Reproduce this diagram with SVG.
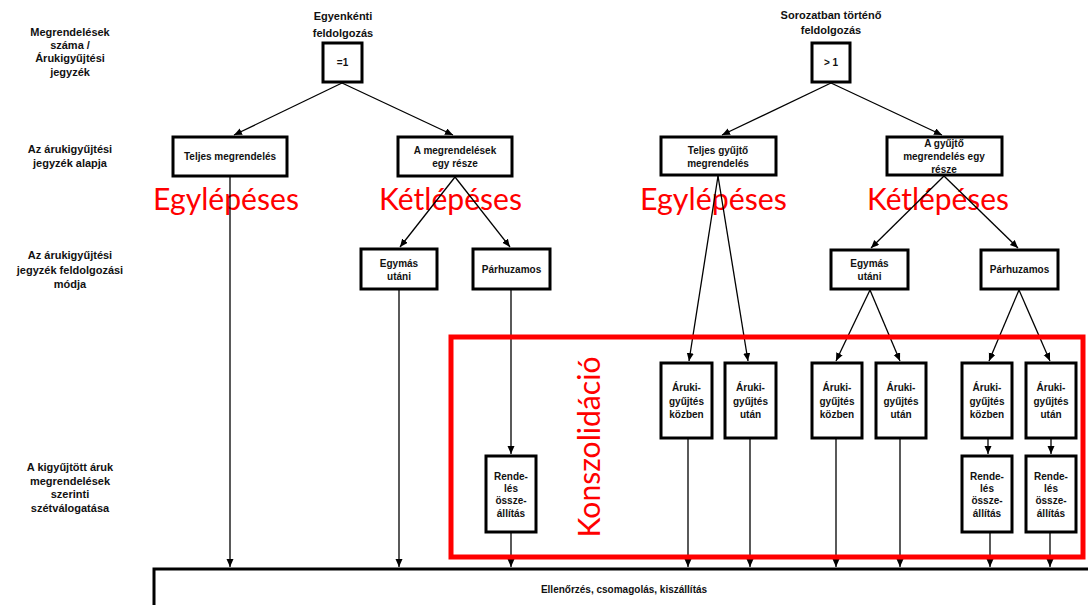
<svg xmlns="http://www.w3.org/2000/svg" width="1088" height="605" viewBox="0 0 1088 605">
  <style>
    .box { fill: #ffffff; stroke: #000000; stroke-width: 3; }
    .lbl { font-family: "Liberation Sans", Arial, sans-serif; font-size: 10px; font-weight: bold; fill: #111111; text-anchor: middle; }
    .side { font-family: "Liberation Sans", Arial, sans-serif; font-size: 11px; font-weight: bold; fill: #111111; text-anchor: middle; }
    .big { font-family: Lato, "Open Sans", sans-serif; font-size: 31px; fill: #ff0000; }
    .con { stroke: #000000; stroke-width: 1.3; fill: none; marker-end: url(#arrow); }
    .con-plain { stroke: #000000; stroke-width: 1.3; fill: none; }
  </style>
  <defs>
    <marker id="arrow" markerUnits="userSpaceOnUse" markerWidth="9" markerHeight="8" refX="8" refY="3.5" orient="auto">
      <path d="M0,0 L8,3.5 L0,7 z" fill="#000000"/>
    </marker>
  </defs>

  <rect width="1088" height="605" fill="#ffffff"/>

  <!-- row headings on the left -->
  <g id="row-headings">
    <text class="side" x="70" y="36">Megrendelések</text>
    <text class="side" x="70" y="49">száma /</text>
    <text class="side" x="70" y="62">Árukigyűjtési</text>
    <text class="side" x="70" y="76">jegyzék</text>

    <text class="side" x="70" y="153">Az árukigyűjtési</text>
    <text class="side" x="70" y="167">jegyzék alapja</text>

    <text class="side" x="70" y="259">Az árukigyűjtési</text>
    <text class="side" x="70" y="274">jegyzék feldolgozási</text>
    <text class="side" x="70" y="288">módja</text>

    <text class="side" x="70" y="471">A kigyűjtött áruk</text>
    <text class="side" x="70" y="485">megrendelések</text>
    <text class="side" x="70" y="498">szerinti</text>
    <text class="side" x="70" y="512">szétválogatása</text>
  </g>

  <!-- column headings -->
  <g id="col-headings">
    <text class="side" x="343" y="20">Egyenkénti</text>
    <text class="side" x="343" y="37">feldolgozás</text>
    <text class="side" x="831" y="19">Sorozatban történő</text>
    <text class="side" x="831" y="34">feldolgozás</text>
  </g>

  <!-- red step labels (drawn under the connectors) -->
  <g id="step-labels">
    <text class="big" x="153" y="210" textLength="146" lengthAdjust="spacingAndGlyphs">Egylépéses</text>
    <text class="big" x="379" y="210" textLength="143" lengthAdjust="spacingAndGlyphs">Kétlépéses</text>
    <text class="big" x="640" y="210" textLength="147" lengthAdjust="spacingAndGlyphs">Egylépéses</text>
    <text class="big" x="867" y="210" textLength="142" lengthAdjust="spacingAndGlyphs">Kétlépéses</text>
  </g>

  <!-- connectors -->
  <g id="connectors">
    <line class="con" x1="342" y1="83" x2="234" y2="135"/>
    <line class="con" x1="342" y1="83" x2="453" y2="135"/>
    <line class="con" x1="831" y1="83" x2="722" y2="135"/>
    <line class="con" x1="831" y1="83" x2="942" y2="135"/>

    <line class="con" x1="230" y1="177" x2="230" y2="567"/>
    <line class="con" x1="455" y1="177" x2="400" y2="247"/>
    <line class="con" x1="455" y1="177" x2="510" y2="247"/>
    <line class="con" x1="399" y1="290" x2="399" y2="567"/>
    <line class="con" x1="511" y1="290" x2="511" y2="454"/>
    <line class="con" x1="511" y1="533" x2="511" y2="567"/>

    <line class="con" x1="718" y1="176" x2="689" y2="361"/>
    <line class="con" x1="718" y1="176" x2="748" y2="361"/>
    <line class="con" x1="944" y1="176" x2="871" y2="248"/>
    <line class="con" x1="944" y1="176" x2="1018" y2="248"/>

    <line class="con" x1="870" y1="290" x2="836" y2="361"/>
    <line class="con" x1="870" y1="290" x2="900" y2="361"/>
    <line class="con" x1="1019" y1="290" x2="989" y2="361"/>
    <line class="con" x1="1019" y1="290" x2="1050" y2="361"/>

    <line class="con" x1="688" y1="439" x2="688" y2="567"/>
    <line class="con" x1="750" y1="439" x2="750" y2="567"/>
    <line class="con" x1="836" y1="439" x2="836" y2="567"/>
    <line class="con" x1="900" y1="439" x2="900" y2="567"/>

    <line class="con" x1="988" y1="439" x2="988" y2="454"/>
    <line class="con" x1="1051" y1="439" x2="1051" y2="454"/>
    <line class="con" x1="990" y1="533" x2="990" y2="567"/>
    <line class="con" x1="1050" y1="533" x2="1050" y2="567"/>
  </g>

  <!-- consolidation frame -->
  <g id="konszolidacio">
    <rect x="451" y="337" width="632" height="220" fill="none" stroke="#ff0000" stroke-width="5"/>
    <text class="big" transform="translate(600,447) rotate(-90)" x="0" y="0" text-anchor="middle" textLength="181" lengthAdjust="spacingAndGlyphs">Konszolidáció</text>
  </g>

  <!-- nodes -->
  <g id="n-egyenkent">
    <rect class="box" x="323" y="43" width="39" height="39"/>
    <text class="lbl" x="342.5" y="66">=1</text>
  </g>
  <g id="n-sorozat">
    <rect class="box" x="812" y="43" width="38" height="39"/>
    <text class="lbl" x="831" y="66">&gt; 1</text>
  </g>

  <g id="n-teljes-megrendeles">
    <rect class="box" x="173" y="137" width="114" height="39"/>
    <text class="lbl" x="230" y="160">Teljes megrendelés</text>
  </g>
  <g id="n-megrendelesek-resze">
    <rect class="box" x="398" y="137" width="114" height="39"/>
    <text class="lbl" x="455" y="154">A megrendelések</text>
    <text class="lbl" x="455" y="167">egy része</text>
  </g>
  <g id="n-teljes-gyujto">
    <rect class="box" x="661" y="137" width="115" height="38"/>
    <text class="lbl" x="718" y="154">Teljes gyűjtő</text>
    <text class="lbl" x="718" y="167">megrendelés</text>
  </g>
  <g id="n-gyujto-resze">
    <rect class="box" x="887" y="137" width="115" height="38"/>
    <text class="lbl" x="944" y="147">A gyűjtő</text>
    <text class="lbl" x="944" y="160">megrendelés egy</text>
    <text class="lbl" x="944" y="173">része</text>
  </g>

  <g id="n-egymas-utani-1">
    <rect class="box" x="361" y="249" width="76" height="40"/>
    <text class="lbl" x="399" y="267">Egymás</text>
    <text class="lbl" x="399" y="280">utáni</text>
  </g>
  <g id="n-parhuzamos-1">
    <rect class="box" x="473" y="249" width="77" height="40"/>
    <text class="lbl" x="511.5" y="273">Párhuzamos</text>
  </g>
  <g id="n-egymas-utani-2">
    <rect class="box" x="831" y="250" width="77" height="39"/>
    <text class="lbl" x="869.5" y="267">Egymás</text>
    <text class="lbl" x="869.5" y="280">utáni</text>
  </g>
  <g id="n-parhuzamos-2">
    <rect class="box" x="981" y="250" width="77" height="39"/>
    <text class="lbl" x="1019.5" y="273">Párhuzamos</text>
  </g>

  <g id="n-osszeallitas-1">
    <rect class="box" x="486" y="456" width="50" height="76"/>
    <text class="lbl" x="511" y="480">Rende-</text>
    <text class="lbl" x="511" y="492">lés</text>
    <text class="lbl" x="511" y="504">össze-</text>
    <text class="lbl" x="511" y="517">állítás</text>
  </g>

  <g id="n-kozben-1">
    <rect class="box" x="661" y="363" width="51" height="75"/>
    <text class="lbl" x="686.5" y="391">Áruki-</text>
    <text class="lbl" x="686.5" y="405">gyűjtés</text>
    <text class="lbl" x="686.5" y="418">közben</text>
  </g>
  <g id="n-utan-1">
    <rect class="box" x="725" y="363" width="51" height="75"/>
    <text class="lbl" x="750.5" y="391">Áruki-</text>
    <text class="lbl" x="750.5" y="405">gyűjtés</text>
    <text class="lbl" x="750.5" y="418">után</text>
  </g>
  <g id="n-kozben-2">
    <rect class="box" x="812" y="363" width="50" height="75"/>
    <text class="lbl" x="837" y="391">Áruki-</text>
    <text class="lbl" x="837" y="405">gyűjtés</text>
    <text class="lbl" x="837" y="418">közben</text>
  </g>
  <g id="n-utan-2">
    <rect class="box" x="876" y="363" width="50" height="75"/>
    <text class="lbl" x="901" y="391">Áruki-</text>
    <text class="lbl" x="901" y="405">gyűjtés</text>
    <text class="lbl" x="901" y="418">után</text>
  </g>
  <g id="n-kozben-3">
    <rect class="box" x="962" y="363" width="50" height="75"/>
    <text class="lbl" x="987" y="391">Áruki-</text>
    <text class="lbl" x="987" y="405">gyűjtés</text>
    <text class="lbl" x="987" y="418">közben</text>
  </g>
  <g id="n-utan-3">
    <rect class="box" x="1026" y="363" width="50" height="75"/>
    <text class="lbl" x="1051" y="391">Áruki-</text>
    <text class="lbl" x="1051" y="405">gyűjtés</text>
    <text class="lbl" x="1051" y="418">után</text>
  </g>

  <g id="n-osszeallitas-2">
    <rect class="box" x="962" y="456" width="50" height="76"/>
    <text class="lbl" x="987" y="480">Rende-</text>
    <text class="lbl" x="987" y="492">lés</text>
    <text class="lbl" x="987" y="504">össze-</text>
    <text class="lbl" x="987" y="517">állítás</text>
  </g>
  <g id="n-osszeallitas-3">
    <rect class="box" x="1026" y="456" width="50" height="76"/>
    <text class="lbl" x="1051" y="480">Rende-</text>
    <text class="lbl" x="1051" y="492">lés</text>
    <text class="lbl" x="1051" y="504">össze-</text>
    <text class="lbl" x="1051" y="517">állítás</text>
  </g>

  <g id="n-kiszallitas">
    <rect class="box" x="154" y="569" width="960" height="50"/>
    <text class="lbl" x="624" y="593">Ellenőrzés, csomagolás, kiszállítás</text>
  </g>
</svg>
